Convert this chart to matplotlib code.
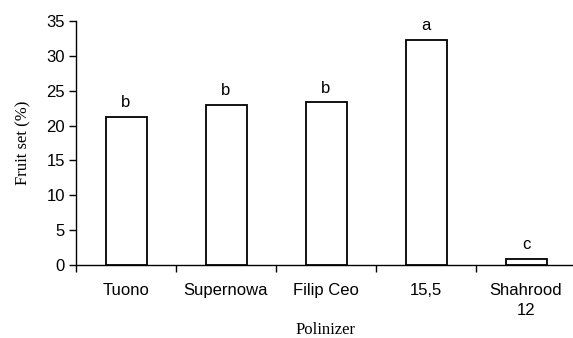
import matplotlib
matplotlib.use("Agg")
import matplotlib.pyplot as plt
import numpy as np

categories = ["Tuono", "Supernowa", "Filip Ceo", "15,5", "Shahrood\n12"]
fruit_set = [21.2, 22.9, 23.3, 32.3, 0.95]
letters = ["b", "b", "b", "a", "c"]
y_ticks = [0, 5, 10, 15, 20, 25, 30, 35]

fig = plt.figure(figsize=(5.73, 3.38), dpi=100)
ax = fig.add_axes([76/573, (338-265.3)/338, 500/573, (265.3-20.7)/338])

x = np.arange(len(categories))
ax.bar(x, fruit_set, width=0.41, color="white", edgecolor="black", linewidth=1.3, zorder=3)

for xi, v, l in zip(x, fruit_set, letters):
    ax.annotate(l, (xi, v), xytext=(0, 5), textcoords="offset points",
                ha="center", va="bottom", fontsize=12, family="Liberation Sans")

ax.set_xlim(-0.5, 4.5)
ax.set_ylim(0, 35)
ax.set_yticks(y_ticks)
ax.set_yticklabels([str(t) for t in y_ticks], family="Liberation Sans", fontsize=12)
ax.set_xticks(x)
ax.set_xticklabels(categories, family="Liberation Sans", fontsize=12, linespacing=1.45)
ax.tick_params(axis="x", which="major", length=0, pad=12.5)
ax.set_xticks(np.arange(-0.5, 5.0, 1.0), minor=True)
ax.tick_params(axis="x", which="minor", length=5, width=1, color="black")
ax.tick_params(axis="y", length=5, width=1, pad=3)

for s in ["top", "right"]:
    ax.spines[s].set_visible(False)
ax.spines["left"].set_linewidth(1)
ax.spines["bottom"].set_linewidth(1)

ax.set_ylabel("Fruit set (%)", family="Liberation Serif", fontsize=12, labelpad=11)
ax.set_xlabel("Polinizer", family="Liberation Serif", fontsize=12, labelpad=3)

fig.savefig("out.png", dpi=100)
